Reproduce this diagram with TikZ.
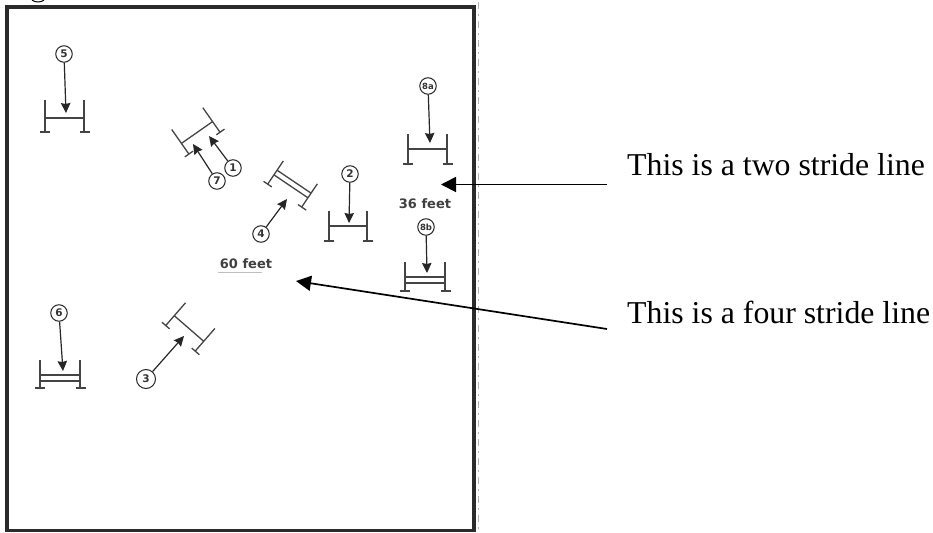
\documentclass[tikz,border=0pt]{standalone}
\usepackage{fontspec}
\setmainfont{Liberation Serif}
\newfontfamily\labelfont{DejaVu Sans}
\usetikzlibrary{arrows.meta}
\definecolor{frameC}{HTML}{2B2B2B}
\definecolor{jumpC}{HTML}{444444}
\tikzset{
  x=1pt,y=-1pt,
  frameline/.style={draw=frameC,line width=3.6pt,line join=miter},
  edgeline/.style={draw=gray!60,line width=0.8pt,dash pattern=on 7pt off 5pt on 2pt off 5pt},
  jumpline/.style={draw=jumpC,line width=1.3pt},
  fence/.style={circle,draw=black!85,line width=1pt,inner sep=0pt,minimum size=16.5pt,
    font=\labelfont\bfseries\fontsize{10.5}{10}\selectfont,text=black!80},
  smallfence/.style={fence,font=\labelfont\bfseries\fontsize{8.5}{8}\selectfont},
  course/.style={draw=black!85,line width=1.2pt,-{Stealth[length=10pt,width=9.5pt,inset=1pt]}},
  callout/.style={draw=black,line width=1.7pt,-{Stealth[length=15pt,width=15pt,inset=0pt]}},
  note/.style={anchor=base west,inner sep=0pt,font=\fontsize{31.8}{34}\selectfont},
  dist/.style={inner sep=0pt,text=black!75,font=\labelfont\bfseries\fontsize{13}{13}\selectfont},
}
% x, y, rotation, post half-distance, top, bottom, half gap of the bars
\newcommand{\jumpglyph}[7]{%
  \begin{scope}[shift={(#1,#2)},rotate=#3]
    \draw[jumpline] (-#4,-#5) -- (-#4,#6) (#4,-#5) -- (#4,#6);
    \draw[jumpline] (-#4-5,#6) -- (-#4+5,#6) (#4-4.5,#6) -- (#4+5.5,#6);
    \ifdim #7pt=0pt
      \draw[jumpline] (-#4,0) -- (#4,0);
    \else
      \draw[jumpline] (-#4,-#7) -- (#4,-#7) (-#4,#7) -- (#4,#7);
    \fi
  \end{scope}}
\begin{document}
\begin{tikzpicture}
\useasboundingbox (0,0) rectangle (933,532);
\draw[edgeline] (478,2) -- (478,532);
\draw[frameline] (7,7) rectangle (474,530.5);
\draw[black,line width=1pt] (32,0.2) .. controls (36,2.6) and (40,2.6) .. (44,0.2);

% jumps
\jumpglyph{64.5}{118}{0}{19.5}{18}{14}{0}
\jumpglyph{197}{132.5}{35}{19}{17}{13}{0}
\jumpglyph{292.5}{184}{-34}{20.5}{14}{14}{2.8}
\jumpglyph{348}{226}{0}{19}{15}{15}{0}
\jumpglyph{427.5}{149}{0}{19.5}{15}{15}{0}
\jumpglyph{425}{280}{0}{20}{18}{11}{3}
\jumpglyph{60}{378}{0}{20}{18}{10}{3}
\jumpglyph{189}{328.5}{-41}{19.5}{17}{13}{0}

% fence numbers
\node[fence] (n5) at (64,54) {5};
\node[fence] (n1) at (233,168) {1};
\node[fence] (n7) at (217,181) {7};
\node[fence] (n4) at (261,234) {4};
\node[fence] (n2) at (350,174) {2};
\node[smallfence] (n8a) at (428,86) {8a};
\node[smallfence] (n8b) at (426,227) {8b};
\node[fence] (n6) at (59,313) {6};
\node[fence,minimum size=19pt] (n3) at (146,379) {3};

% arrow ends
\coordinate (t5) at (66,113);
\coordinate (t1) at (209,136);
\coordinate (t7) at (193,144);
\coordinate (t4) at (287,199);
\coordinate (t2) at (349,223);
\coordinate (t8a) at (430,143);
\coordinate (t8b) at (427,273);
\coordinate (t6) at (63,371);
\coordinate (t3) at (184,336);
\foreach \n in {5,1,7,4,2,8a,8b,6,3} \draw[course] (n\n) -- (t\n);

% distances
\node[dist] (d36) at (425,204) {36 feet};
\node[dist] (d60) at (246,264) {60 feet};
\draw[gray!50,line width=0.5pt] (218,272) -- (262,272);

% callouts
\node[note] (two) at (627,175) {This is a two stride line};
\node[note] (four) at (627,323) {This is a four stride line};
\coordinate (s2) at (607,184.5);
\coordinate (e2) at (441,184.5);
\coordinate (s4) at (607,329);
\coordinate (e4) at (296,281);
\draw[callout] (s2) -- (e2);
\draw[callout] (s4) -- (e4);
\end{tikzpicture}
\end{document}
